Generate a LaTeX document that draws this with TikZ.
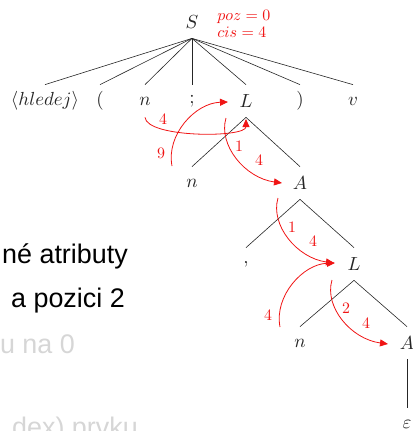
\documentclass[tikz,border=0pt]{standalone}
\usepackage{fontspec}
\newfontfamily\slidesans{Liberation Sans}
\usetikzlibrary{arrows.meta,calc}
\definecolor{attr}{RGB}{240,20,20}
\definecolor{fadedtxt}{RGB}{214,214,214}
\tikzset{
  sym/.style={inner sep=0pt, scale=1.9, minimum height=16.84bp, text=black!85},
  edge/.style={draw=black!85, line width=0.6bp},
  flow/.style={draw=attr, line width=0.8bp, -{Triangle[length=8bp,width=7bp]}},
  lbl/.style={inner sep=0pt, scale=1.6, text=attr},
  slide/.style={inner sep=0pt, anchor=base east, font=\slidesans\fontsize{27}{32}\selectfont},
}
\begin{document}
\begin{tikzpicture}[x=1bp,y=-1bp]
\useasboundingbox (0,0) rectangle (413,431);
\clip (0,0) rectangle (413,431);
% left slide text (cropped)
\node[slide, text=black] (t1) at (128,263) {né atributy};
\node[slide, text=black] (t2) at (125,307) {a pozici 2};
\node[slide, text=fadedtxt] (t3) at (75,353) {u na 0};
\node[slide, text=fadedtxt] (t4) at (138,436) {dex) prvku};
% tree nodes
\node[sym] (S) at (192,22) {$S$};
\node[sym] (hl) at (45,101) {$\langle hledej\rangle$};
\node[sym] (lp) at (100,101) {$($};
\node[sym] (n1) at (145,101) {$n$};
\node[sym] (sc) at (192,101) {$;$};
\node[sym] (L1) at (246,101) {$L$};
\node[sym] (rp) at (300,101) {$)$};
\node[sym] (v) at (353,101) {$v$};
\node[sym] (n2) at (192,183) {$n$};
\node[sym] (A1) at (300,183) {$A$};
\node[sym] (cm) at (246,264) {$,$};
\node[sym] (L2) at (354,264) {$L$};
\node[sym] (n3) at (300,343) {$n$};
\node[sym] (A2) at (407,343) {$A$};
\node[sym] (eps) at (407,424) {$\varepsilon$};
% tree edges
\foreach \c in {hl,lp,n1,sc,L1,rp,v} \draw[edge] (S.south) -- (\c.north);
\draw[edge] (L1.south) -- (n2.north);
\draw[edge] (L1.south) -- (A1.north);
\draw[edge] (A1.south) -- (cm.north);
\draw[edge] (A1.south) -- (L2.north);
\draw[edge] (L2.south) -- (n3.north);
\draw[edge] (L2.south) -- (A2.north);
\draw[edge] (A2.south) -- (eps.north);
% attribute annotation
\node[lbl, anchor=base west] (poz) at (217,20) {$poz=0$};
\node[lbl, anchor=base west] (cis) at (217,37) {$cis=4$};
% attribute flow arrows
\coordinate (a1e) at (246,119);
\coordinate (a2s) at (172,166); \coordinate (a2e) at (228,102);
\coordinate (a3s) at (226,118); \coordinate (a3e) at (282,183);
\coordinate (a4s) at (278,198); \coordinate (a4e) at (334,263);
\coordinate (a5s) at (280,327); \coordinate (a5e) at (335,263);
\coordinate (a6s) at (332,280); \coordinate (a6e) at (388,344);
\draw[flow] (n1.south) .. controls (147,138) and (246,138) .. (a1e);
\draw[flow] (a2s) .. controls (166,135) and (195,103) .. (a2e);
\draw[flow] (a3s) .. controls (218,145) and (245,178) .. (a3e);
\draw[flow] (a4s) .. controls (270,225) and (297,258) .. (a4e);
\draw[flow] (a5s) .. controls (274,296) and (303,264) .. (a5e);
\draw[flow] (a6s) .. controls (324,307) and (351,339) .. (a6e);
% flow labels
\node[lbl] (f1) at (163,119) {$4$};
\node[lbl] (f2) at (161,153) {$9$};
\node[lbl] (f3a) at (239,146) {$1$};
\node[lbl] (f3b) at (259,160) {$4$};
\node[lbl] (f4a) at (292,227) {$1$};
\node[lbl] (f4b) at (313,241) {$4$};
\node[lbl] (f5) at (268,315) {$4$};
\node[lbl] (f6a) at (346,308) {$2$};
\node[lbl] (f6b) at (366,323) {$4$};
\end{tikzpicture}
\end{document}
